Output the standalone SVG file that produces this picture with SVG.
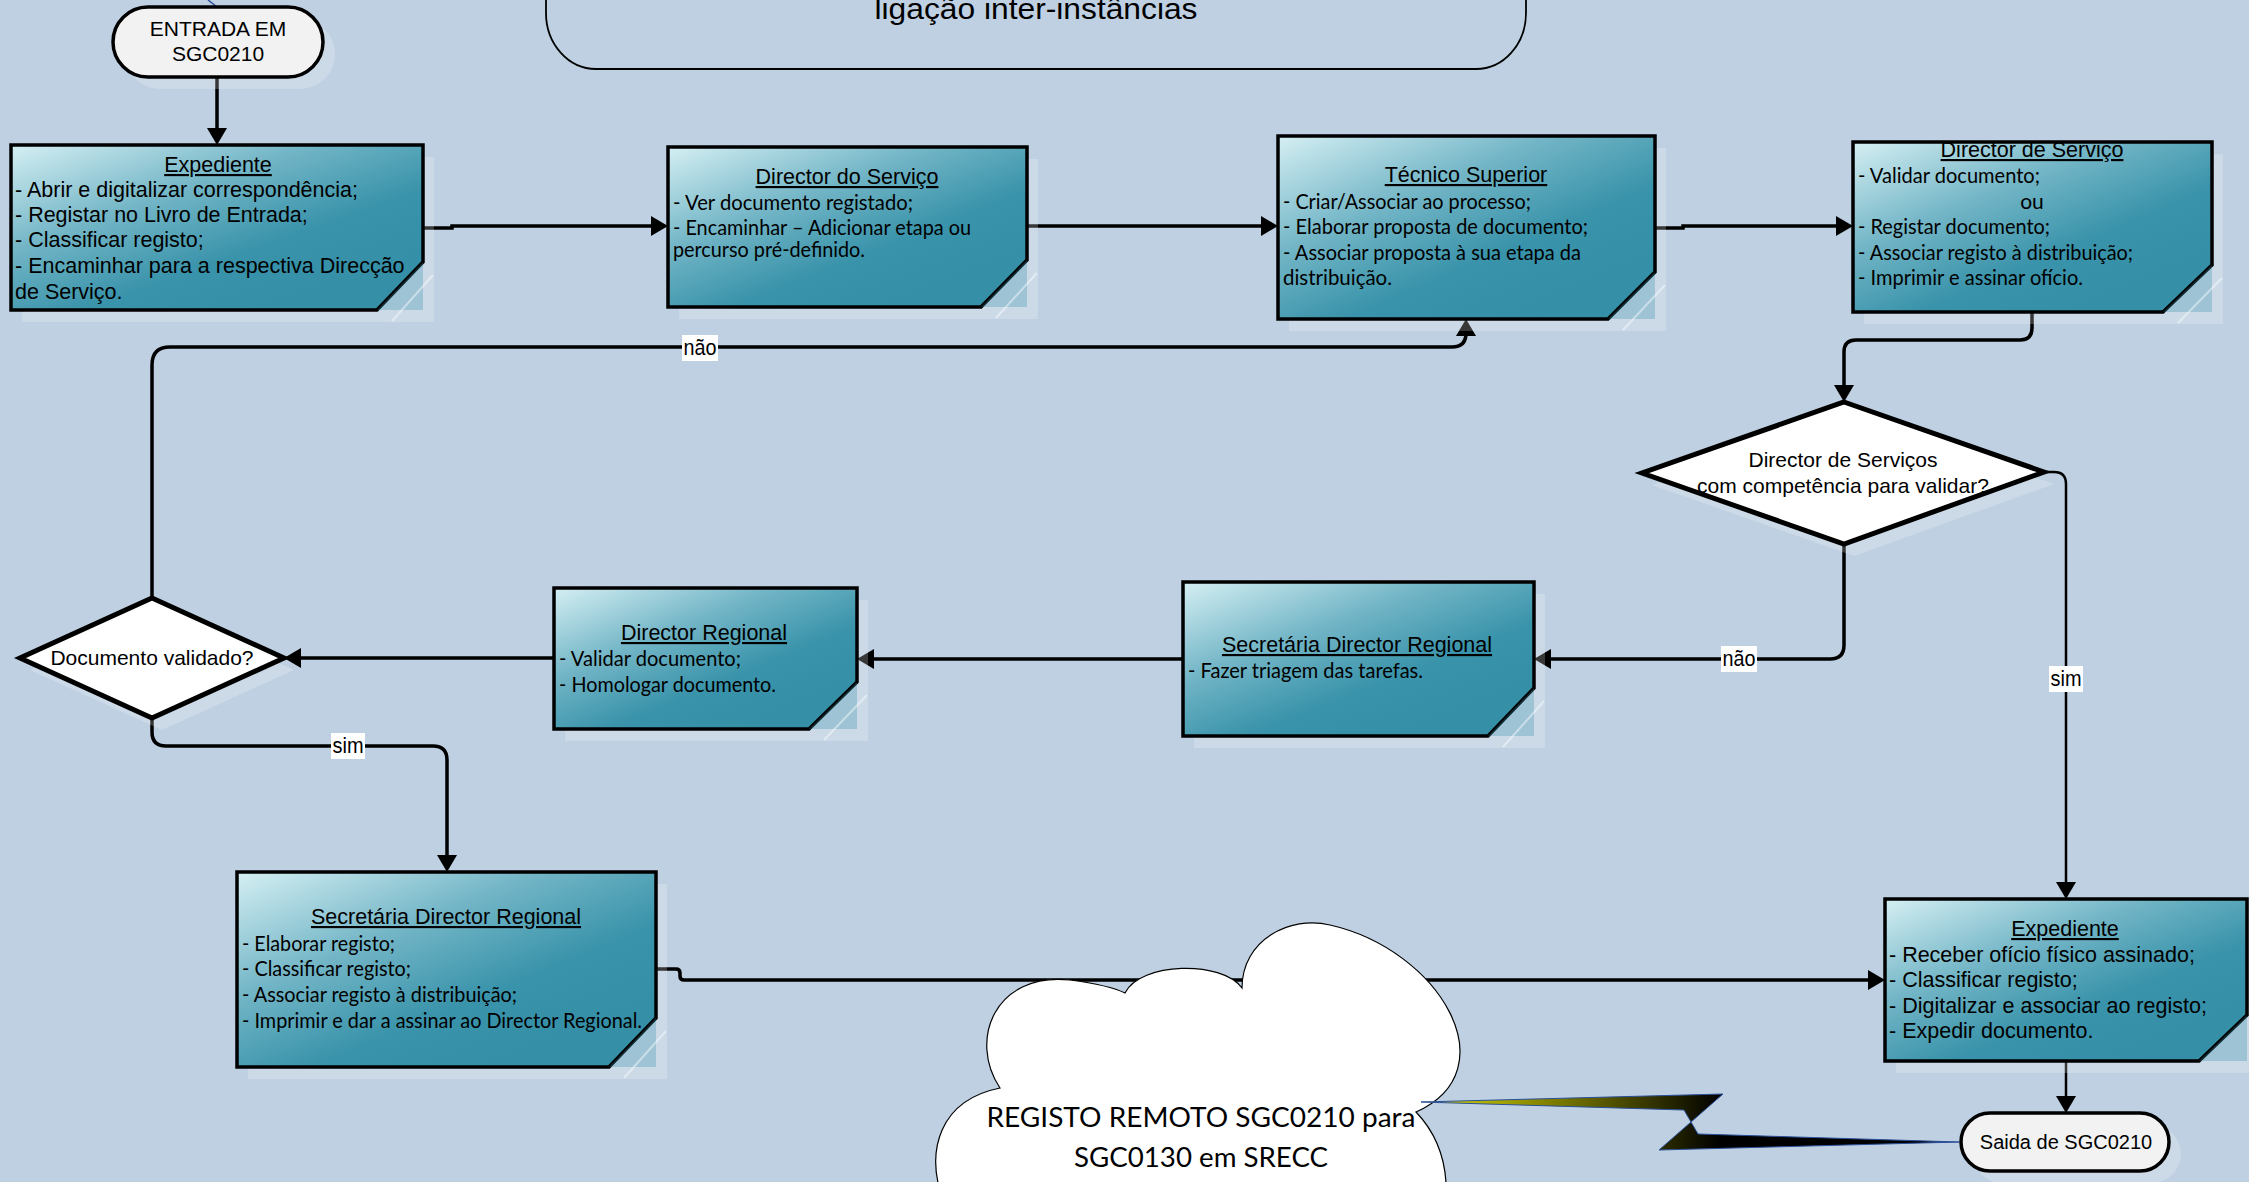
<svg xmlns="http://www.w3.org/2000/svg" width="2249" height="1182" viewBox="0 0 2249 1182">
<style>
.a{font-family:"Liberation Sans",Arial,sans-serif;font-size:21.5px;fill:#000}
.ttl{text-anchor:middle;text-decoration:underline}
.mid{text-anchor:middle}
.c{font-family:Lato,"Liberation Sans",sans-serif;font-size:21px;fill:#000}
.box{stroke:#000;stroke-width:3.5;fill:url(#tg);stroke-linejoin:miter}
.fold{fill:#3590a8;fill-opacity:.3;stroke:none}
.foldl{stroke:#fff;stroke-opacity:.45;stroke-width:2;fill:none}
.shd{fill:#fff;fill-opacity:.22}
.dia{fill:#fff;stroke:#000;stroke-width:5;stroke-linejoin:miter}
.term{fill:#f2f2f2;stroke:#000;stroke-width:3.5}
.con{fill:none;stroke:#000;stroke-width:3.5}
.thin{stroke-width:2.5}
.lb{fill:#fff}
.lt{font-family:"Liberation Sans",Arial,sans-serif;font-size:22px;text-anchor:middle}
</style>
<defs>
<linearGradient id="tg" x1="0" y1="0" x2="0.8" y2="0.9">
<stop offset="0" stop-color="#d5eff3"/>
<stop offset="0.4" stop-color="#72b5c6"/>
<stop offset="0.72" stop-color="#3993aa"/>
<stop offset="1" stop-color="#348fa7"/>
</linearGradient>
<linearGradient id="bolt" gradientUnits="userSpaceOnUse" x1="1421" y1="0" x2="1720" y2="0">
<stop offset="0" stop-color="#dede00"/>
<stop offset="0.5" stop-color="#707000"/>
<stop offset="1" stop-color="#000"/>
</linearGradient>
<marker id="ah" viewBox="0 0 17 20" refX="9" refY="10" markerWidth="17" markerHeight="20" markerUnits="userSpaceOnUse" orient="auto">
<path d="M0,0 L17,10 L0,20 z" fill="#000"/>
</marker>
</defs>
<rect x="0" y="0" width="2249" height="1182" fill="#bed0e2"/>

<g id="ligacao">
<rect x="546" y="-100" width="980" height="169" rx="50" ry="56" fill="none" stroke="#000" stroke-width="1.8"/>
<text class="a mid" x="1036" y="19" style="font-size:30px" textLength="323" lengthAdjust="spacingAndGlyphs">ligação inter-instâncias</text>
</g>

<g id="connectors">
<path d="M208,0 L217,7" fill="none" stroke="#2a4f9a" stroke-width="1.5"/>
<path class="con" d="M217,77 V137" marker-end="url(#ah)"/>
<path class="con" d="M423,228 H452 V226 H660" marker-end="url(#ah)"/>
<path class="con" d="M1027,226 H1270" marker-end="url(#ah)"/>
<path class="con" d="M1655,228 H1683 V226 H1845" marker-end="url(#ah)"/>
<path class="con" d="M2032,312 V328 Q2032,340 2020,340 H1856 Q1844,340 1844,352 V394" marker-end="url(#ah)"/>
<path class="con" d="M1844,544 V645 Q1844,659 1830,659 H1542" marker-end="url(#ah)"/>
<path class="con thin" d="M2044,472 H2054 Q2066,472 2066,484 V891" marker-end="url(#ah)"/>
<path class="con" d="M1183,659 H865" marker-end="url(#ah)"/>
<path class="con" d="M554,658 H292" marker-end="url(#ah)"/>
<path class="con" d="M152,598 V365 Q152,347 170,347 H1452 Q1466,347 1466,333 V327" marker-end="url(#ah)"/>
<path class="con" d="M152,718 V732 Q152,746 166,746 H433 Q447,746 447,760 V864" marker-end="url(#ah)"/>
<path class="con" d="M656,969 H676 Q680,969 680,973 V976 Q680,980 684,980 H1877" marker-end="url(#ah)"/>
<path class="con thin" d="M2066,1061 V1105" marker-end="url(#ah)"/>
<rect class="lb" x="682" y="335" width="36" height="26"/>
<text class="lt" x="700" y="355" textLength="33" lengthAdjust="spacingAndGlyphs">não</text>
<rect class="lb" x="1721" y="646" width="36" height="26"/>
<text class="lt" x="1739" y="666" textLength="33" lengthAdjust="spacingAndGlyphs">não</text>
<rect class="lb" x="331" y="733" width="34" height="26"/>
<text class="lt" x="348" y="753" textLength="31" lengthAdjust="spacingAndGlyphs">sim</text>
<rect class="lb" x="2049" y="666" width="34" height="26"/>
<text class="lt" x="2066" y="686" textLength="31" lengthAdjust="spacingAndGlyphs">sim</text>
</g>

<g id="entrada">
<rect class="shd" x="125" y="19" width="210" height="70" rx="35"/>
<rect class="term" x="113" y="7" width="210" height="70" rx="35"/>
<text class="a mid" x="218" y="36" style="font-size:21px">ENTRADA EM</text>
<text class="a mid" x="218" y="61" style="font-size:21px">SGC0210</text>
</g>

<g id="expediente1">
<rect class="shd" x="22" y="157" width="412" height="165"/>
<polygon class="box" points="11,145 423,145 423,262 377,310 11,310"/>
<polygon class="fold" points="423,262 423,310 377,310"/>
<line class="foldl" x1="392" y1="321" x2="433" y2="275"/>
<text class="a ttl" x="218" y="172">Expediente</text>
<text class="a" x="15" y="197">- Abrir e digitalizar correspondência;</text>
<text class="a" x="15" y="222">- Registar no Livro de Entrada;</text>
<text class="a" x="15" y="247">- Classificar registo;</text>
<text class="a" x="15" y="273">- Encaminhar para a respectiva Direcção</text>
<text class="a" x="15" y="299">de Serviço.</text>
</g>

<g id="director-servico">
<rect class="shd" x="679" y="159" width="359" height="160"/>
<polygon class="box" points="668,147 1027,147 1027,260 981,307 668,307"/>
<polygon class="fold" points="1027,260 1027,307 981,307"/>
<line class="foldl" x1="996" y1="318" x2="1037" y2="273"/>
<text class="a ttl" x="847" y="184">Director do Serviço</text>
<text class="c" x="673" y="210" textLength="240" lengthAdjust="spacingAndGlyphs">- Ver documento registado;</text>
<text class="c" x="673" y="235" textLength="298" lengthAdjust="spacingAndGlyphs">- Encaminhar – Adicionar etapa ou</text>
<text class="c" x="673" y="257" textLength="192" lengthAdjust="spacingAndGlyphs">percurso pré-definido.</text>
</g>

<g id="tecnico">
<rect class="shd" x="1289" y="148" width="377" height="183"/>
<polygon class="box" points="1278,136 1655,136 1655,272 1608,319 1278,319"/>
<polygon class="fold" points="1655,272 1655,319 1608,319"/>
<line class="foldl" x1="1623" y1="330" x2="1665" y2="285"/>
<text class="a ttl" x="1466" y="182">Técnico Superior</text>
<text class="c" x="1283" y="209" textLength="248" lengthAdjust="spacingAndGlyphs">- Criar/Associar ao processo;</text>
<text class="c" x="1283" y="234" textLength="305" lengthAdjust="spacingAndGlyphs">- Elaborar proposta de documento;</text>
<text class="c" x="1283" y="260" textLength="298" lengthAdjust="spacingAndGlyphs">- Associar proposta à sua etapa da</text>
<text class="c" x="1283" y="285" textLength="109" lengthAdjust="spacingAndGlyphs">distribuição.</text>
</g>

<g id="director-de-servico">
<rect class="shd" x="1864" y="154" width="359" height="170"/>
<polygon class="box" points="1853,142 2212,142 2212,265 2163,312 1853,312"/>
<polygon class="fold" points="2212,265 2212,312 2163,312"/>
<line class="foldl" x1="2178" y1="323" x2="2222" y2="278"/>
<text class="a ttl" x="2032" y="157">Director de Serviço</text>
<text class="c" x="1858" y="183" textLength="182" lengthAdjust="spacingAndGlyphs">- Validar documento;</text>
<text class="c mid" x="2032" y="209">ou</text>
<text class="c" x="1858" y="234" textLength="192" lengthAdjust="spacingAndGlyphs">- Registar documento;</text>
<text class="c" x="1858" y="260" textLength="275" lengthAdjust="spacingAndGlyphs">- Associar registo à distribuição;</text>
<text class="c" x="1858" y="285" textLength="225" lengthAdjust="spacingAndGlyphs">- Imprimir e assinar ofício.</text>
</g>

<g id="decisao-competencia">
<polygon class="shd" points="1854,414 2054,484 1854,556 1652,485"/>
<polygon class="dia" points="1844,402 2044,472 1844,544 1642,473"/>
<text class="a mid" x="1843" y="467" style="font-size:21px">Director de Serviços</text>
<text class="a mid" x="1843" y="493" style="font-size:21px">com competência para validar?</text>
</g>

<g id="secretaria-triagem">
<rect class="shd" x="1194" y="594" width="351" height="154"/>
<polygon class="box" points="1183,582 1534,582 1534,688 1488,736 1183,736"/>
<polygon class="fold" points="1534,688 1534,736 1488,736"/>
<line class="foldl" x1="1503" y1="747" x2="1544" y2="701"/>
<text class="a ttl" x="1357" y="652">Secretária Director Regional</text>
<text class="c" x="1188" y="678" textLength="235" lengthAdjust="spacingAndGlyphs">- Fazer triagem das tarefas.</text>
</g>

<g id="director-regional">
<rect class="shd" x="565" y="600" width="303" height="141"/>
<polygon class="box" points="554,588 857,588 857,682 809,729 554,729"/>
<polygon class="fold" points="857,682 857,729 809,729"/>
<line class="foldl" x1="824" y1="740" x2="867" y2="695"/>
<text class="a ttl" x="704" y="640">Director Regional</text>
<text class="c" x="559" y="666" textLength="182" lengthAdjust="spacingAndGlyphs">- Validar documento;</text>
<text class="c" x="559" y="692" textLength="217" lengthAdjust="spacingAndGlyphs">- Homologar documento.</text>
</g>

<g id="decisao-validado">
<polygon class="shd" points="162,610 294,670 162,730 30,670"/>
<polygon class="dia" points="152,598 284,658 152,718 20,658"/>
<text class="a mid" x="152" y="665" style="font-size:21px">Documento validado?</text>
</g>

<g id="secretaria-registo">
<rect class="shd" x="248" y="884" width="419" height="195"/>
<polygon class="box" points="237,872 656,872 656,1018 609,1067 237,1067"/>
<polygon class="fold" points="656,1018 656,1067 609,1067"/>
<line class="foldl" x1="624" y1="1078" x2="666" y2="1031"/>
<text class="a ttl" x="446" y="924">Secretária Director Regional</text>
<text class="c" x="242" y="951" textLength="153" lengthAdjust="spacingAndGlyphs">- Elaborar registo;</text>
<text class="c" x="242" y="976" textLength="169" lengthAdjust="spacingAndGlyphs">- Classificar registo;</text>
<text class="c" x="242" y="1002" textLength="275" lengthAdjust="spacingAndGlyphs">- Associar registo à distribuição;</text>
<text class="c" x="242" y="1028" textLength="400" lengthAdjust="spacingAndGlyphs">- Imprimir e dar a assinar ao Director Regional.</text>
</g>

<g id="expediente2">
<rect class="shd" x="1896" y="911" width="362" height="162"/>
<polygon class="box" points="1885,899 2247,899 2247,1015 2199,1061 1885,1061"/>
<polygon class="fold" points="2247,1015 2247,1061 2199,1061"/>
<text class="a ttl" x="2065" y="936">Expediente</text>
<text class="a" x="1889" y="962">- Receber ofício físico assinado;</text>
<text class="a" x="1889" y="987">- Classificar registo;</text>
<text class="a" x="1889" y="1013">- Digitalizar e associar ao registo;</text>
<text class="a" x="1889" y="1038">- Expedir documento.</text>
</g>

<g id="saida">
<rect class="shd" x="1973" y="1125" width="208" height="58" rx="29"/>
<rect class="term" x="1961" y="1113" width="208" height="58" rx="29"/>
<text class="a mid" x="2066" y="1149" style="font-size:20px">Saida de SGC0210</text>
</g>

<g id="registo-remoto">
<path d="M943,1200 C925,1150 940,1100 1000,1088 C968,1040 995,972 1070,980 C1100,984 1115,988 1125,993 C1140,962 1222,960 1242,988 C1242,940 1290,915 1330,925 C1440,950 1510,1070 1416,1112 C1438,1135 1448,1165 1446,1200 Z" fill="#fff" stroke="#000" stroke-width="1.2"/>
<text class="c mid" x="1201" y="1127" style="font-size:27px" textLength="429" lengthAdjust="spacingAndGlyphs">REGISTO REMOTO SGC0210 para</text>
<text class="c mid" x="1201" y="1167" style="font-size:27px" textLength="254" lengthAdjust="spacingAndGlyphs">SGC0130 em SRECC</text>
</g>

<g id="ligacao-remota">
<polygon points="1421,1102 1723,1094 1659,1150 1959,1142 1698,1134 1684,1110" fill="url(#bolt)" stroke="#2a4f9a" stroke-width="1"/>
</g>
</svg>
